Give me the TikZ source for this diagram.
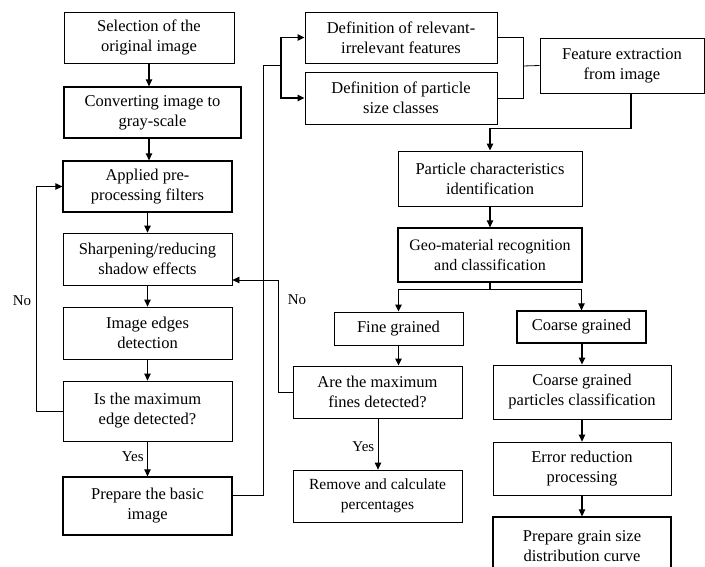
\documentclass[tikz,border=0pt]{standalone}
\usepackage{fontspec}
\setmainfont{Liberation Serif}
\usetikzlibrary{arrows.meta}

\begin{document}
\begin{tikzpicture}[x=1pt,y=-1pt,
  box/.style={draw, line width=0.8pt, align=center, inner sep=0pt, font=\rmfamily\fontsize{16.5}{20}\selectfont},
  boldbox/.style={box, line width=1.3pt},
  arr/.style={line width=1.1pt, -{Triangle[length=7pt,width=6.5pt]}},
  link/.style={line width=0.8pt},
  lbl/.style={font=\rmfamily\fontsize{15}{18}\selectfont}]
\useasboundingbox (0,0) rectangle (705,566);
\clip (0,0) rectangle (705,566);

% Left column: image preparation
\node[box, line width=1pt, minimum width=170pt, minimum height=51pt] (sel) at (149,37.5) {Selection of the\\original image};
\node[boldbox, minimum width=177pt, minimum height=51pt] (conv) at (152.5,112.5) {Converting image to\\gray-scale};
\node[boldbox, minimum width=169pt, minimum height=51pt] (appl) at (147.5,186.5) {Applied pre-\\processing filters};
\node[box, minimum width=169pt, minimum height=52pt] (sharp) at (147.5,259) {Sharpening/reducing\\shadow effects};
\node[box, minimum width=169pt, minimum height=52pt] (edges) at (147.5,333) {Image edges\\detection};
\node[box, minimum width=169pt, minimum height=60pt] (ismax) at (147.5,411) {Is the maximum\\edge detected?};
\node[boldbox, minimum width=169pt, minimum height=58pt] (prep) at (147.5,506) {Prepare the basic\\image};

% Right part: features and classification
\node[box, line width=1pt, minimum width=192pt, minimum height=51pt] (rel) at (401,37.5) {Definition of relevant-\\irrelevant features};
\node[box, line width=1pt, minimum width=192pt, minimum height=52pt] (size) at (401,98) {Definition of particle\\size classes};
\node[box, line width=1pt, minimum width=164pt, minimum height=55pt] (feat) at (622,65.5) {Feature extraction\\from image};
\node[box, line width=1pt, minimum width=184pt, minimum height=55pt] (part) at (490,178.5) {Particle characteristics\\identification};
\node[boldbox, minimum width=184pt, minimum height=54pt, font=\rmfamily\fontsize{16}{20}\selectfont] (geo) at (490,255) {Geo-material recognition\\and classification};
\node[box, line width=1pt, minimum width=129pt, minimum height=33pt] (fine) at (398.5,328.5) {Fine grained};
\node[boldbox, minimum width=129pt, minimum height=32pt] (coarse) at (581.5,327) {Coarse grained};
\node[box, line width=1pt, minimum width=169pt, minimum height=52pt] (fines) at (377.5,392) {Are the maximum\\fines detected?};
\node[box, minimum width=169pt, minimum height=52pt, font=\rmfamily\fontsize{15.5}{20}\selectfont] (remove) at (377.5,496) {Remove and calculate\\percentages};
\node[box, line width=1pt, minimum width=178pt, minimum height=54pt] (ccls) at (582,392) {Coarse grained\\particles classification};
\node[box, minimum width=178pt, minimum height=53pt] (err) at (582,468.5) {Error reduction\\processing};
\node[boldbox, minimum width=178pt, minimum height=58pt] (curve) at (582,546) {Prepare grain size\\distribution curve};

% Main flow, left
\draw[arr] (sel.south) -- (sel.south |- conv.north);
\draw[arr] (conv.south -| sel.south) -- (sel.south |- appl.north);
\draw[arr] (appl.south) -- (sharp.north);
\draw[arr] (sharp.south) -- (edges.north);
\draw[arr] (edges.south) -- (ismax.north);
\draw[arr] (ismax.south) -- node[lbl, left, pos=0.45] {Yes} (prep.north);
\draw[arr, line width=0.8pt] (ismax.west) -- ++(-26,0) |- (appl.west);
\node[lbl] (no1) at (22,301) {No};

% Link to the feature definitions
\coordinate (split) at (281,65);
\draw[link] ([yshift=11pt]prep.east) -- ++(31,0) |- (split);
\draw[arr] (split) |- (rel.west);
\draw[arr] (split) |- (size.west);
\coordinate (join) at (523,66);
\draw[link] (rel.east) -| (join);
\draw[link] (size.east) -| (join);
\draw[link] (join) -- (feat.west);
\draw[arr] ([xshift=9pt]feat.south) -- ++(0,35) -| (part.north);
\draw[arr] (part.south) -- (geo.north);

% Fine / coarse branches
\draw[arr] (geo.south) -- ++(0,7) coordinate (fork) -| (fine.north);
\draw[arr] (fork) -| (coarse.north);
\draw[arr] (fine.south) -- (fine.south |- fines.north);
\draw[arr, line width=0.8pt] ([xshift=0.5pt]fines.south) -- node[lbl, left, pos=0.55] {Yes} ([xshift=0.5pt]remove.north);
\draw[arr, line width=0.8pt] (fines.west) -- ++(-14,0) |- ([yshift=-21pt]sharp.east);
\node[lbl] (no2) at (297,300) {No};
\draw[arr] (coarse.south -| ccls.north) -- (ccls.north);
\draw[arr] (ccls.south) -- (err.north);
\draw[arr] (err.south) -- (curve.north);
\end{tikzpicture}
\end{document}
